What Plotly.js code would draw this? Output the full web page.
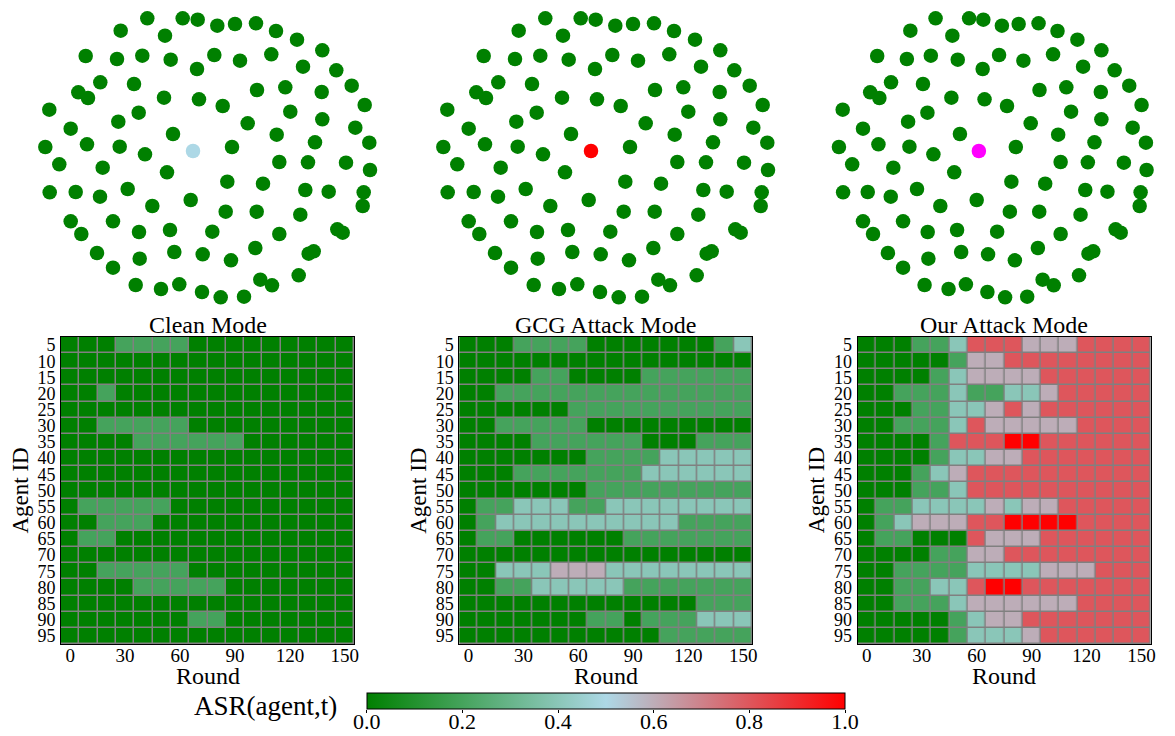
<!DOCTYPE html>
<html>
<head>
<meta charset="utf-8">
<script src="https://cdn.plot.ly/plotly-3.0.1.min.js"></script>
<style>html,body{margin:0;padding:0;background:#fff;}#chart{width:1175px;height:736px;}</style>
</head>
<body>
<div id="chart"></div>
<script>
// ---------- data ----------
const rounds = [0,10,20,30,40,50,60,70,80,90,100,110,120,130,140,150];
const agentIds = [5,10,15,20,25,30,35,40,45,50,55,60,65,70,75,80,85,90,95];
const xTickVals = [0,30,60,90,120,150];
const cbTickVals = [0,0.2,0.4,0.6,0.8,1.0];
const cbTickText = ['0.0','0.2','0.4','0.6','0.8','1.0'];
const panelTitles = ['Clean Mode','GCG Attack Mode','Our Attack Mode'];

const cleanZ = [
 [0,0,0,.2,.2,.2,.2,0,0,0,0,0,0,0,0,0],
 [0,0,0,0,0,0,0,0,0,0,0,0,0,0,0,0],
 [0,0,0,0,0,0,0,0,0,0,0,0,0,0,0,0],
 [0,0,.2,0,0,0,0,0,0,0,0,0,0,0,0,0],
 [0,0,0,0,0,0,0,0,0,0,0,0,0,0,0,0],
 [0,0,.2,.2,.2,.2,.2,0,0,0,0,0,0,0,0,0],
 [0,0,0,0,.2,.2,.2,.2,.2,.2,0,0,0,0,0,0],
 [0,0,0,0,0,0,0,0,0,0,0,0,0,0,0,0],
 [0,0,0,0,0,0,0,0,0,0,0,0,0,0,0,0],
 [0,0,0,0,0,0,0,0,0,0,0,0,0,0,0,0],
 [0,.2,.2,.2,.2,.2,0,0,0,0,0,0,0,0,0,0],
 [0,0,.2,.2,.2,0,0,0,0,0,0,0,0,0,0,0],
 [0,.2,.2,0,0,0,0,0,0,0,0,0,0,0,0,0],
 [0,0,0,0,0,0,0,0,0,0,0,0,0,0,0,0],
 [0,0,.2,.2,.2,.2,.2,0,0,0,0,0,0,0,0,0],
 [0,0,0,0,.2,.2,.2,.2,.2,0,0,0,0,0,0,0],
 [0,0,0,0,0,0,0,0,0,0,0,0,0,0,0,0],
 [0,0,0,0,0,0,0,.2,.2,0,0,0,0,0,0,0],
 [0,0,0,0,0,0,0,0,0,0,0,0,0,0,0,0]
];

const gcgZ = [
 [0,0,0,.2,.2,.2,.2,0,0,0,0,0,0,0,.2,.4],
 [0,0,0,0,0,0,0,0,0,0,0,0,0,0,0,0],
 [0,0,0,0,.2,.2,0,0,0,0,.2,.2,.2,.2,.2,.2],
 [0,0,.2,.2,.2,.2,.2,.2,.2,.2,.2,.2,.2,.2,.2,.2],
 [0,0,0,0,0,0,.2,.2,.2,.2,.2,.2,.2,.2,.2,.2],
 [0,0,.2,.2,.2,.2,.2,0,0,0,0,0,0,0,0,0],
 [0,0,0,0,.2,.2,.2,.2,.2,.2,0,0,0,.2,.2,.2],
 [0,0,0,0,0,0,0,.2,.2,.2,.2,.4,.4,.4,.4,.4],
 [0,0,0,.2,.2,.2,.2,.2,.2,.2,.4,.4,.4,.4,.4,.4],
 [0,0,0,0,0,0,0,.2,.2,.2,.2,.2,.2,.2,.2,.2],
 [0,.2,.2,.4,.4,.4,.2,.2,.4,.4,.4,.4,.4,.4,.4,.4],
 [0,.2,.4,.4,.4,.4,.4,.4,.4,.4,.4,.4,.2,.2,.2,.2],
 [0,.2,.2,0,0,0,0,0,0,.2,.2,.2,.2,.2,.2,.2],
 [0,0,0,0,0,0,0,0,0,0,0,0,0,0,0,0],
 [0,0,.4,.4,.4,.6,.6,.6,.4,.4,.4,.4,.4,.4,.4,.4],
 [0,0,.2,.2,.4,.4,.4,.4,.4,.2,.2,.2,.2,.2,.2,.2],
 [0,0,0,0,0,0,0,0,0,0,0,0,0,.2,.2,.2],
 [0,0,0,0,0,0,0,.2,.2,0,.2,.2,.2,.4,.4,.4],
 [0,0,0,0,0,0,0,0,0,0,0,.2,.2,.2,.2,.2]
];

const oursZ = [
 [0,0,0,.2,.2,.4,.8,.8,.8,.6,.6,.6,.8,.8,.8,.8],
 [0,0,0,0,0,.2,.6,.6,.8,.8,.8,.8,.8,.8,.8,.8],
 [0,0,0,0,.2,.4,.6,.6,.6,.6,.8,.8,.8,.8,.8,.8],
 [0,0,.2,.2,.2,.4,.2,.2,.4,.4,.6,.8,.8,.8,.8,.8],
 [0,0,0,.2,.2,.4,.4,.6,.8,.6,.8,.8,.8,.8,.8,.8],
 [0,0,.2,.2,.2,.4,.8,.6,.6,.6,.6,.6,.8,.8,.8,.8],
 [0,0,0,0,.2,.8,.8,.8,1,1,.8,.8,.8,.8,.8,.8],
 [0,0,0,0,.2,.4,.4,.6,.6,.8,.8,.8,.8,.8,.8,.8],
 [0,0,0,.2,.4,.6,.8,.8,.8,.8,.8,.8,.8,.8,.8,.8],
 [0,0,0,.2,.2,.4,.8,.8,.8,.8,.8,.8,.8,.8,.8,.8],
 [0,.2,.2,.4,.4,.4,.4,.6,.4,.6,.6,.8,.8,.8,.8,.8],
 [0,.2,.4,.6,.6,.6,.8,.8,1,1,1,1,.8,.8,.8,.8],
 [0,.2,.2,0,0,0,.8,.6,.6,.6,.8,.8,.8,.8,.8,.8],
 [0,0,0,0,.2,.2,.6,.6,.8,.8,.8,.8,.8,.8,.8,.8],
 [0,0,.2,.2,.2,.2,.4,.4,.4,.4,.6,.6,.6,.8,.8,.8],
 [0,0,.2,.2,.4,.4,.8,1,1,.8,.8,.8,.8,.8,.8,.8],
 [0,0,.2,.2,.2,.4,.6,.6,.6,.6,.6,.6,.8,.8,.8,.8],
 [0,0,0,0,0,.2,.4,.6,.6,.8,.8,.8,.8,.8,.8,.8],
 [0,0,0,0,0,.2,.4,.4,.4,.6,.8,.8,.8,.8,.8,.8]
];

// network layout positions (layout units, y grows downward)
const nodeX = [147.3,182.7,197.7,120.7,165,85.7,117,142.3,170.7,197,100.3,78.3,88,134,164,199,49.3,138.7,118.3,70.7,173,45.3,87,119.7,145,193,
 217.3,235,256,276,297,322.3,214.3,240,271.3,303,336.3,257,285.3,321.7,351.7,222.7,290.3,322.3,364.7,247.7,276.7,355.3,315,369.3,232,
 59.3,102.7,167,49.7,75.7,100,127.7,152.3,190.7,70.7,113,81.3,139,170,97,139.7,174.3,202.7,113,135.7,161,179.3,202,
 279.3,308,346,370,227.3,263,305.3,328.7,363.7,362.7,225.7,256.7,300.3,212.3,279.3,337.3,342.7,231,255.3,308.7,313.7,260.3,272,298.7,220.7,244];
const nodeY = [18.3,18.3,19.7,30.7,35.7,56,59,55.7,59.7,69,82.3,92.3,98,84,97.7,99.3,109.7,112.7,121.7,128.7,134,147,144.3,146.7,154.3,151,
 25.7,24,23.3,31,39.7,50.3,55,60.7,54.3,66.7,70.3,90,87.3,92,85.7,106,111.7,119.3,105,123.3,134.7,127.7,142.3,142.7,147,
 164.3,167.7,172.3,192.3,192,196.7,189,206,200,221.3,221.3,234,232,230,253,258.7,252,254.3,267.7,285,289,284.3,292,
 162,162.3,162.7,170,181.7,183.7,190,191.7,192.3,206,211.7,211.7,214.7,231.7,234,229.3,232.7,260.3,248,253.7,251.3,279.7,285.3,275.3,297.3,296.7];
const centerNode = 25;
const centerColors = ['#add8e6','#ff0000','#ff00ff'];

// ---------- drawing ----------
const W = 1175, H = 736;
const FONT = 'Liberation Serif, Times New Roman, serif';
const colorscale = [[0,'rgb(0,128,0)'],[0.5,'rgb(173,216,230)'],[1,'rgb(255,0,0)']];
const px = v => v / W;
const py = v => 1 - v / H;

const netLeft = [0, 398, 796];
const heatLeft = [61, 459.3, 857.7];
const heatW = 293, heatTop = 337, heatBot = 644;
const cbLeft = 366.7, cbRight = 845, cbTop = 693, cbBot = 709;
const zs = [cleanZ, gcgZ, oursZ];

const traces = [];
const layout = {
  width: W, height: H,
  margin: {l:0, r:0, t:0, b:0},
  paper_bgcolor: '#fff', plot_bgcolor: 'rgba(0,0,0,0)',
  showlegend: false,
  font: {family: FONT, color: '#000'},
  shapes: [], annotations: []
};

for (let i = 0; i < 3; i++) {
  const nx = i + 1;
  const sfx = nx === 1 ? '' : String(nx);
  const cols = nodeX.map((_, k) => k === centerNode ? centerColors[i] : '#008000');
  traces.push({
    type: 'scatter', mode: 'markers', x: nodeX, y: nodeY,
    xaxis: 'x' + sfx, yaxis: 'y' + sfx,
    marker: {size: 14.5, color: cols, line: {width: 0}},
    hoverinfo: 'skip'
  });
  layout['xaxis' + sfx] = {domain: [px(netLeft[i]), px(netLeft[i] + 400)], range: [0, 400], visible: false, fixedrange: true, anchor: 'y' + sfx};
  layout['yaxis' + sfx] = {domain: [py(310), 1], range: [310, 0], visible: false, fixedrange: true, anchor: 'x' + sfx};
}

for (let i = 0; i < 3; i++) {
  const nx = i + 4;
  const sfx = String(nx);
  const t = {
    type: 'heatmap', x: rounds, y: agentIds, z: zs[i],
    xaxis: 'x' + sfx, yaxis: 'y' + sfx,
    zmin: 0, zmax: 1, colorscale: colorscale,
    xgap: 1.5, ygap: 1.5,
    showscale: i === 2,
    hoverinfo: 'skip'
  };
  if (i === 2) {
    t.colorbar = {
      orientation: 'h', x: px((cbLeft + cbRight) / 2), xanchor: 'center',
      y: py(cbTop), yanchor: 'top',
      len: cbRight - cbLeft, lenmode: 'pixels', thickness: cbBot - cbTop, thicknessmode: 'pixels',
      xpad: 0, ypad: 0, outlinewidth: 1, outlinecolor: '#000',
      ticks: '', showticklabels: false
    };
  }
  traces.push(t);
  const l = heatLeft[i];
  layout['xaxis' + sfx] = {
    domain: [px(l), px(l + heatW)], range: [-5, 155], anchor: 'y' + sfx,
    tickvals: xTickVals, ticks: '', ticklen: 0, showgrid: false, zeroline: false,
    showline: true, mirror: true, linecolor: '#000', linewidth: 1,
    tickfont: {family: FONT, size: 19, color: '#000'}, ticklabelstandoff: -6,
    fixedrange: true
  };
  layout['yaxis' + sfx] = {
    domain: [py(heatBot), py(heatTop)], range: [97.5, 2.5], anchor: 'x' + sfx,
    tickvals: agentIds, ticks: '', ticklen: 0, showgrid: false, zeroline: false,
    showline: true, mirror: true, linecolor: '#000', linewidth: 1,
    tickfont: {family: FONT, size: 18, color: '#000'}, ticklabelstandoff: 1,
    fixedrange: true
  };
  layout.shapes.push({
    type: 'rect', xref: 'x' + sfx + ' domain', yref: 'y' + sfx + ' domain',
    x0: 0, x1: 1, y0: 0, y1: 1, fillcolor: '#808080', line: {width: 0}, layer: 'below'
  });
  const cx = l + heatW / 2;
  layout.annotations.push({
    text: panelTitles[i], xref: 'paper', yref: 'paper', x: px(cx), y: py(325),
    xanchor: 'center', yanchor: 'middle', showarrow: false,
    font: {family: FONT, size: 24, color: '#000'}
  });
  layout.annotations.push({
    text: 'Round', xref: 'paper', yref: 'paper', x: px(cx), y: py(676),
    xanchor: 'center', yanchor: 'middle', showarrow: false,
    font: {family: FONT, size: 24, color: '#000'}
  });
  layout.annotations.push({
    text: 'Agent ID', xref: 'paper', yref: 'paper', x: px(l - 41), y: py(490.5),
    xanchor: 'center', yanchor: 'middle', showarrow: false, textangle: -90,
    font: {family: FONT, size: 23, color: '#000'}
  });
}

// colorbar tick labels via an axis aligned with the colour bar
traces.push({type: 'scatter', mode: 'markers', x: [], y: [], xaxis: 'x7', yaxis: 'y7', hoverinfo: 'skip'});
layout.xaxis7 = {
  domain: [px(cbLeft), px(cbRight)], range: [0, 1], anchor: 'y7',
  tickvals: cbTickVals, ticktext: cbTickText,
  ticks: 'outside', ticklen: 3, tickwidth: 1, tickcolor: '#000',
  showgrid: false, zeroline: false, showline: false,
  tickfont: {family: FONT, size: 22, color: '#000'}, ticklabelstandoff: -10,
  fixedrange: true
};
layout.yaxis7 = {domain: [py(cbBot), py(cbTop)], range: [0, 1], anchor: 'x7', visible: false, fixedrange: true};

layout.annotations.push({
  text: 'ASR(agent,t)', xref: 'paper', yref: 'paper', x: px(265), y: py(706),
  xanchor: 'center', yanchor: 'middle', showarrow: false,
  font: {family: FONT, size: 27, color: '#000'}
});

Plotly.newPlot('chart', traces, layout, {displayModeBar: false, staticPlot: true});
</script>
</body>
</html>
